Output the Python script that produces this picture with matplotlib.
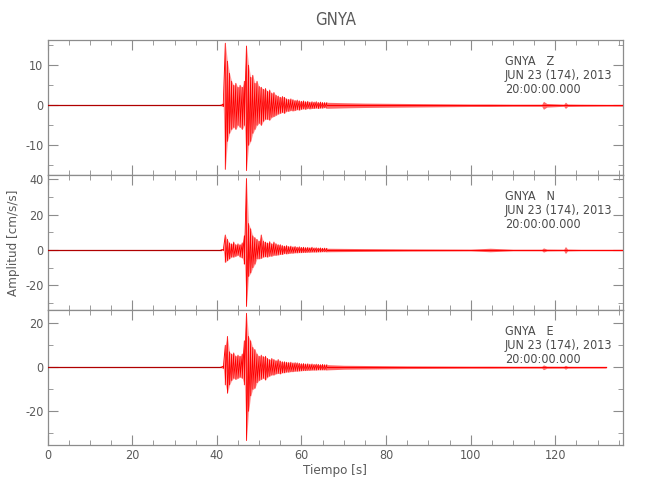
import numpy as np
import matplotlib
matplotlib.use("Agg")
import matplotlib.pyplot as plt
from matplotlib.ticker import MultipleLocator

plt.rcParams['font.family'] = ['DejaVu Sans']
plt.rcParams['font.stretch'] = 'condensed'
plt.rcParams['axes.unicode_minus'] = False

# ---------------- data ----------------
station = "GNYA"
components = ["Z", "N", "E"]
date_text = "JUN 23 (174), 2013"
time_text = "20:00:00.000"

# event window: envelope (max / min) every 0.5 s from 41 s to 66 s
t_event = np.arange(41.0, 66.01, 0.5)

Z_hi = [0.1, 0.3, 15.5, 11, 8, 6, 5, 5.5, 4.5, 5,
        4.5, 6, 14.8, 10, 7, 7.5, 5.5, 6, 4.7, 4.5,
        4, 4.2, 3.5, 3.8, 3, 3.2, 2.5, 2.3, 2, 2.2,
        2, 1.6, 1.5, 1.6, 1.4, 1.2, 1.3, 1.1, 1.0, 1.1,
        0.9, 1.0, 0.8, 0.9, 0.8, 0.9, 0.7, 0.8, 0.7, 0.7,
        0.7]
Z_lo = [-0.1, -0.3, -16.0, -9, -7, -6, -5.5, -6, -5, -5.5,
        -6, -5, -16.3, -10, -9, -7, -6, -5, -4.5, -5,
        -4, -3.5, -3.5, -3.7, -3, -2.8, -2.5, -2.2, -2, -1.8,
        -2, -1.5, -1.5, -1.3, -1.4, -1.3, -1.1, -1.2, -1.0, -0.9,
        -1.0, -0.8, -0.9, -0.8, -0.8, -0.7, -0.8, -0.7, -0.7, -0.6,
        -0.7]

N_hi = [0.1, 0.3, 8.5, 6, 4, 3.5, 4.5, 3, 3.5, 3,
        4, 8, 40.5, 15, 12, 8, 7, 6, 5, 8.5,
        5, 4.5, 4, 4.7, 3.5, 4.5, 3.5, 3, 3, 2.5,
        2.2, 2.5, 2, 2.2, 1.8, 2, 1.6, 1.8, 1.5, 1.6,
        1.4, 1.5, 1.3, 1.6, 1.2, 1.3, 1.1, 1.2, 1.0, 1.1,
        1.0]
N_lo = [-0.1, -0.3, -7, -6, -5, -4, -4, -3.5, -3, -4,
        -4.5, -8, -32, -15, -13, -10, -8, -5, -5, -4.7,
        -4, -3.8, -4, -3.5, -3.5, -3, -3, -2.8, -2.5, -2.5,
        -2, -2.2, -2, -1.8, -1.8, -1.6, -1.6, -1.5, -1.5, -1.4,
        -1.4, -1.3, -1.3, -1.2, -1.2, -1.2, -1.1, -1.1, -1.0, -1.0,
        -1.0]

E_hi = [0.1, 0.5, 10, 14, 7, 6, 6.5, 5, 5.5, 5,
        6, 12, 24.5, 14, 12, 9, 8, 6, 5, 5.5,
        4.8, 5, 4, 3.5, 4, 3.5, 3, 3.5, 2.8, 2.5,
        2.5, 2.3, 2.2, 2.3, 2, 2.1, 2, 1.8, 1.6, 1.7,
        1.5, 1.6, 1.4, 1.5, 1.3, 1.4, 1.3, 1.2, 1.3, 1.2,
        1.2]
E_lo = [-0.1, -0.5, -8, -11.8, -8, -6, -5, -5.5, -5, -4.5,
        -5, -8, -33.3, -20, -13, -10, -9.5, -7, -6, -5.5,
        -5, -5.8, -4.5, -4, -3.5, -3.5, -3, -2.8, -3, -2.5,
        -2.5, -2.2, -2.2, -2, -2, -1.8, -1.8, -1.7, -1.6, -1.5,
        -1.5, -1.4, -1.4, -1.3, -1.3, -1.3, -1.2, -1.2, -1.2, -1.2,
        -1.2]

# coda: symmetric envelope at irregular times
t_coda = [66, 70, 75, 80, 85, 90, 95, 100, 104.6, 110, 116.8, 117.2,
          118, 122, 122.4, 122.9, 126, 132, 136]
Z_coda = [0.75, 0.65, 0.55, 0.5, 0.45, 0.4, 0.35, 0.3, 0.3, 0.25, 0.25, 1.0,
          0.45, 0.25, 0.8, 0.3, 0.25, 0.2, 0.2]
N_coda = [1.0, 0.9, 0.8, 0.7, 0.6, 0.55, 0.5, 0.45, 1.0, 0.4, 0.4, 1.2,
          0.5, 0.4, 2.0, 0.5, 0.35, 0.35, 0.35]
E_coda = [1.2, 0.9, 0.8, 0.7, 0.6, 0.55, 0.5, 0.45, 0.45, 0.4, 0.4, 1.1,
          0.45, 0.4, 0.9, 0.4, 0.35, 0.35]

ylims = [(-17.4, 16.3), (-34.0, 42.5), (-35.3, 26.0)]
y_major = [10, 20, 20]
y_minor = [5, 10, 10]

# ---------------- figure ----------------
fig = plt.figure(figsize=(6.5, 5.0), dpi=100)
left, width = 47.6 / 650, (623 - 47.6) / 650
tops = [40, 175, 310]
ph = 135
gray = '#5a5a5a'
spine_gray = '#8c8c8c'

traces = [(Z_hi, Z_lo, Z_coda), (N_hi, N_lo, N_coda), (E_hi, E_lo, E_coda)]
axes = []
for i, (hi, lo, coda) in enumerate(traces):
    ax = fig.add_axes([left, 1 - (tops[i] + ph) / 500, width, ph / 500])
    axes.append(ax)
    hi = np.array(hi); lo = np.array(lo)
    # pre-event quiet part
    ax.plot([0, t_event[0]], [0, 0], color='#b00000', lw=0.9, zorder=3)
    # event window
    ax.fill_between(t_event, lo, hi, color='#ffa0a0', lw=0, zorder=2)
    xs = np.repeat(t_event, 2)
    ys = np.column_stack([hi, lo]).ravel()
    ax.plot(xs, ys, color='red', lw=0.6, zorder=3)
    # coda
    tc = np.array(t_coda[:len(coda)])
    c = np.array(coda)
    ax.fill_between(tc, -c, c, color='#ff6a6a', lw=0, zorder=2)
    ax.plot(tc, np.zeros_like(tc), color='red', lw=0.9, zorder=3)

    ax.set_xlim(0, 136)
    ax.set_ylim(*ylims[i])
    ax.xaxis.set_major_locator(MultipleLocator(20))
    ax.xaxis.set_minor_locator(MultipleLocator(5))
    ax.yaxis.set_major_locator(MultipleLocator(y_major[i]))
    ax.yaxis.set_minor_locator(MultipleLocator(y_minor[i]))
    ax.tick_params(which='both', direction='in', top=True, right=True,
                   colors=spine_gray, labelcolor=gray, labelsize=9, pad=3)
    ax.tick_params(which='major', length=7)
    ax.tick_params(which='minor', length=3.5)
    for s in ax.spines.values():
        s.set_color(spine_gray)
        s.set_linewidth(0.9)
    if i < 2:
        ax.tick_params(labelbottom=False)
    ax.text(0.795, 0.74, f"{station}   {components[i]}\n{date_text}\n{time_text}",
            transform=ax.transAxes, ha='left', va='center', color='#4a4a4a',
            fontsize=9, linespacing=1.1)

axes[2].set_xlabel("Tiempo [s]", color=gray, fontsize=9.5)
axes[2].xaxis.set_label_coords(0.5, -0.14)
axes[1].set_ylabel("Amplitud [cm/s/s]", color=gray, fontsize=9.5)
axes[1].yaxis.set_label_coords(-0.048, 0.5)
fig.text((47.6 + 623) / 2 / 650, 1 - 20 / 500, station, ha='center', va='center',
         color=gray, fontsize=12)

fig.savefig("out.png", dpi=100)
